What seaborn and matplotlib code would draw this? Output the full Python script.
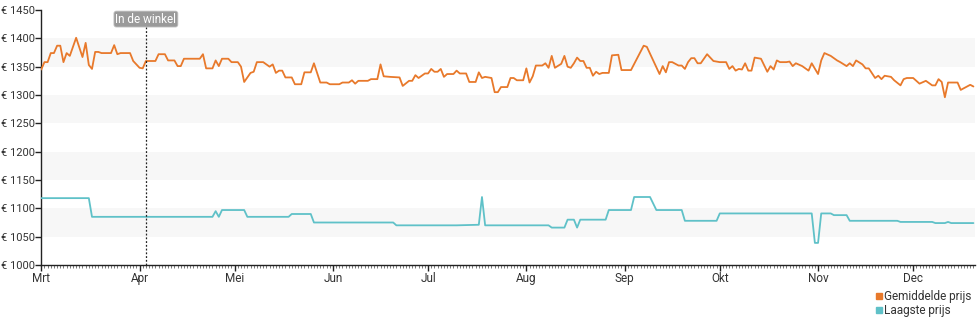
import matplotlib
matplotlib.use("Agg")
import matplotlib.pyplot as plt
import matplotlib.dates as mdates
from matplotlib.lines import Line2D
import numpy as np
import pandas as pd
import seaborn as sns

# ---- data (days after 1 March, price in EUR) ----
avg_days = [0, 1, 2, 3, 4, 5, 6, 7, 8, 9, 11, 13, 14, 15, 16, 17, 18, 19, 22, 23, 24, 25, 28,
            29, 30, 31, 32, 33, 36, 37, 39, 40, 42, 43, 44, 45, 50, 51, 52, 54, 55, 56, 57, 59,
            60, 62, 63, 64, 66, 67, 68, 70, 72, 73, 74, 75, 76, 77, 79, 80, 82, 83, 85, 86, 88,
            90, 91, 94, 95, 97, 98, 99, 100, 103, 104, 106, 107, 108, 110, 113, 114, 116, 117,
            118, 119, 121, 122, 123, 124, 125, 126, 127, 128, 130, 131, 132, 134, 135, 137, 138,
            139, 140, 141, 142, 143, 144, 145, 147, 148, 149, 150, 152, 153, 154, 155, 156, 158,
            159, 160, 161, 162, 164, 165, 166, 167, 168, 169, 170, 171, 172, 173, 174, 175, 176,
            177, 179, 180, 182, 183, 186, 190, 191, 195, 196, 197, 198, 199, 201, 202, 203, 204,
            205, 206, 207, 208, 210, 212, 214, 216, 217, 218, 219, 220, 221, 222, 223, 224, 225,
            227, 229, 230, 231, 232, 233, 235, 236, 237, 238, 240, 242, 243, 245, 246, 247, 249,
            251, 252, 254, 255, 256, 257, 259, 260, 261, 263, 264, 265, 266, 268, 269, 271, 272,
            273, 275, 277, 279, 281, 282, 283, 284, 285, 286, 287, 289, 290, 293, 294]
avg_price = [1345, 1358, 1358, 1374, 1374, 1387, 1387, 1358, 1374, 1369, 1401, 1367, 1392, 1353,
             1346, 1376, 1376, 1374, 1374, 1388, 1372, 1374, 1374,
             1360, 1354, 1348, 1347, 1360, 1360, 1372, 1372, 1361, 1361, 1351, 1351, 1364, 1364,
             1372, 1347, 1347, 1361, 1351, 1364, 1364,
             1358, 1358, 1350, 1323, 1339, 1341, 1358, 1358, 1350, 1354, 1339, 1343, 1343, 1331,
             1331, 1319, 1319, 1340, 1340, 1356, 1322,
             1322, 1319, 1319, 1322, 1322, 1326, 1320, 1325, 1325, 1328, 1328, 1354, 1333, 1332,
             1331, 1316, 1325, 1325,
             1335, 1330, 1338, 1338, 1346, 1341, 1341, 1346, 1332, 1337, 1337, 1343, 1338, 1338,
             1323, 1323, 1340,
             1330, 1332, 1331, 1330, 1305, 1305, 1314, 1314, 1330, 1330, 1326, 1326, 1347, 1322,
             1333, 1352, 1352,
             1356, 1348, 1369, 1348, 1355, 1369, 1350, 1348, 1356, 1366, 1360, 1360, 1348, 1348,
             1334, 1341, 1337,
             1339, 1339, 1370, 1371, 1344, 1344, 1387, 1385, 1337, 1351, 1340, 1358, 1358, 1352,
             1352, 1346, 1358,
             1365, 1365, 1356, 1356, 1372, 1360, 1358, 1358, 1346, 1351, 1343, 1346, 1345, 1356,
             1343, 1343, 1366,
             1364, 1341, 1351, 1345, 1361, 1358, 1358, 1359, 1351, 1356, 1351, 1343, 1356, 1337,
             1361, 1374, 1369,
             1361, 1358, 1351, 1356, 1351, 1361, 1354, 1347, 1347, 1330, 1334, 1328, 1334, 1332,
             1326, 1317, 1328,
             1330, 1330, 1320, 1325, 1317, 1317, 1328, 1323, 1296, 1322, 1322, 1322, 1309, 1318,
             1315]

low_days = [0, 15, 16, 54, 55, 56, 57, 64, 65, 78, 79, 85, 86, 111, 112, 131, 138, 139, 140,
            160, 161, 165, 166, 168, 169, 170, 178, 179, 186, 187, 192, 194, 202, 203, 213, 214,
            243, 244, 245, 246, 249, 250, 254, 255, 270, 271, 281, 282, 285, 286, 287, 294]
low_price = [1118, 1118, 1085, 1085, 1095, 1085, 1097, 1097, 1085, 1085, 1090, 1090, 1075, 1075,
             1070, 1070, 1071, 1120, 1070,
             1070, 1066, 1066, 1080, 1080, 1066, 1080, 1080, 1097, 1097, 1120, 1120, 1097, 1097,
             1078, 1078, 1091,
             1091, 1039, 1039, 1091, 1091, 1088, 1088, 1078, 1078, 1076, 1076, 1074, 1074, 1076,
             1074, 1074]

month_labels = ["Mrt", "Apr", "Mei", "Jun", "Jul", "Aug", "Sep", "Okt", "Nov", "Dec"]
y_ticks = [1000, 1050, 1100, 1150, 1200, 1250, 1300, 1350, 1400, 1450]
series_names = ["Gemiddelde prijs", "Laagste prijs"]
marker_day = 33
marker_label = "In de winkel"

ORANGE = "#e8792b"
TEAL = "#5fc1c8"

start = pd.Timestamp("2023-03-01")
df = pd.concat([
    pd.DataFrame({"date": start + pd.to_timedelta(avg_days, unit="D"), "price": avg_price,
                  "serie": series_names[0]}),
    pd.DataFrame({"date": start + pd.to_timedelta(low_days, unit="D"), "price": low_price,
                  "serie": series_names[1]}),
])

sns.set_theme(style="white")
plt.rcParams["font.family"] = ["Roboto", "DejaVu Sans"]

fig = plt.figure(figsize=(9.8, 3.25), dpi=100)
ax = fig.add_axes([41 / 980, 60 / 325, 934 / 980, 255 / 325])

# alternating bands
for lo in [1050, 1150, 1250, 1350]:
    ax.axhspan(lo, lo + 50, color="#f7f7f7", zorder=0, lw=0)

sns.lineplot(data=df, x="date", y="price", hue="serie", palette=[ORANGE, TEAL],
             linewidth=1.3, ax=ax, legend=False, zorder=3)

ax.set_ylim(1000, 1450)
ax.set_xlim(start - pd.Timedelta(hours=2), start + pd.Timedelta(days=294.5))
ax.set_yticks(y_ticks)
ax.set_yticklabels([f"€ {v}" for v in y_ticks])
month_ticks = [start + pd.DateOffset(months=i) for i in range(len(month_labels))]
ax.set_xticks(month_ticks)
ax.set_xticklabels(month_labels)
ax.xaxis.set_minor_locator(mdates.DayLocator())
ax.set_xlabel("")
ax.set_ylabel("")

for s in ["top", "right"]:
    ax.spines[s].set_visible(False)
for s in ["left", "bottom"]:
    ax.spines[s].set_color("#222222")
    ax.spines[s].set_linewidth(1.0)

ax.tick_params(axis="y", which="major", direction="out", length=4, width=1, color="#222222",
               labelsize=8, labelcolor="#333333", pad=0.5, left=True)
ax.tick_params(axis="x", which="major", direction="out", length=4, width=1, color="#222222",
               labelsize=8.5, labelcolor="#333333", pad=1, bottom=True)
ax.tick_params(axis="x", which="minor", direction="out", length=2, width=0.5, color="#444444",
               bottom=True)

# "In de winkel" marker
mx = start + pd.Timedelta(days=marker_day)
ax.axvline(mx, ymin=0, ymax=0.995, color="#222222", lw=0.9, ls=(0, (1.5, 1.5)), zorder=4)
ax.text(mx, 1434, marker_label, ha="center", va="center", fontsize=8.5, color="white", zorder=5,
        bbox=dict(boxstyle="round,pad=0.12,rounding_size=0.2", fc="#9a9a9a", ec="#bbbbbb", lw=0.6))

handles = [Line2D([], [], marker="s", ls="", color=c, markersize=4.5) for c in [ORANGE, TEAL]]
fig.legend(handles, series_names, loc="lower right", bbox_to_anchor=(1.0, 0.0), frameon=False,
           fontsize=8.5, handletextpad=0.0, labelspacing=0.05, borderaxespad=0.3,
           handlelength=0.9, labelcolor="#333333")

fig.savefig("out.png", dpi=100)
